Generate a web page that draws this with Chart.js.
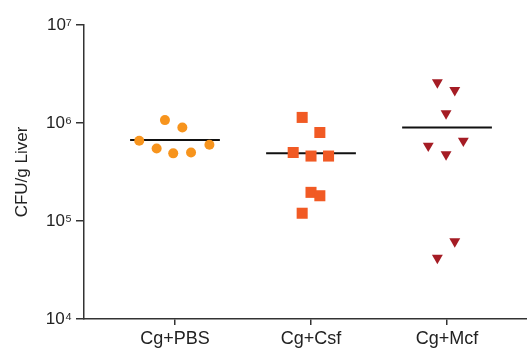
<!DOCTYPE html>
<html>
<head>
<meta charset="utf-8">
<script src="https://cdn.jsdelivr.net/npm/chart.js@4"></script>
<style>
  html, body { margin: 0; padding: 0; background: #ffffff; }
  #c { display: block; }
</style>
</head>
<body>
<canvas id="c" width="527" height="351"></canvas>
<script>
// ---- data ----
const categories = ['Cg+PBS', 'Cg+Csf', 'Cg+Mcf'];

const pbsValues = [6.6e5, 1.07e6, 9.0e5, 5.5e5, 4.9e5, 5.0e5, 6.0e5];
const pbsJitter = [-0.263, -0.074, 0.054, -0.135, -0.013, 0.118, 0.253];

const csfValues = [1.14e6, 8.0e5, 5.0e5, 4.6e5, 4.6e5, 1.96e5, 1.81e5, 1.2e5];
const csfJitter = [-0.065, 0.065, -0.131, 0.0, 0.129, 0.0, 0.065, -0.065];

const mcfValues = [2.59e6, 2.16e6, 1.25e6, 5.85e5, 6.58e5, 4.78e5, 6.2e4, 4.2e4];
const mcfJitter = [-0.071, 0.057, -0.007, -0.138, 0.12, -0.007, 0.057, -0.071];

const meanValues = [6.7e5, 4.9e5, 9.0e5];

const yTickValues = [1e4, 1e5, 1e6, 1e7];
const yTickLabels = ['10\u2074', '10\u2075', '10\u2076', '10\u2077'];
const xTickValues = [1, 2, 3];

// ---- build datasets ----
function pts(vals, jit, idx) {
  return vals.map((v, i) => ({ x: idx + jit[i], y: v }));
}
const groupColors = ['#F7941D', '#F15A24', '#A51C24'];
const groupStyles = [
  { pointStyle: 'circle', radius: 5, rotation: 0 },
  { pointStyle: 'rect', radius: 7.8, rotation: 0 },
  { pointStyle: 'triangle', radius: 6.3, rotation: 180 }
];
const groups = [
  pts(pbsValues, pbsJitter, 1),
  pts(csfValues, csfJitter, 2),
  pts(mcfValues, mcfJitter, 3)
];

const datasets = [];
groups.forEach((g, i) => {
  datasets.push({
    label: categories[i],
    data: g,
    showLine: false,
    pointStyle: groupStyles[i].pointStyle,
    pointRadius: groupStyles[i].radius,
    pointRotation: groupStyles[i].rotation,
    pointBackgroundColor: groupColors[i],
    pointBorderColor: groupColors[i],
    pointBorderWidth: 0,
    pointHoverRadius: groupStyles[i].radius
  });
});
const halfWidth = 0.33;
meanValues.forEach((m, i) => {
  datasets.push({
    label: 'mean ' + categories[i],
    data: [{ x: i + 1 - halfWidth, y: m }, { x: i + 1 + halfWidth, y: m }],
    showLine: true,
    borderColor: '#111111',
    borderWidth: 2,
    pointRadius: 0,
    pointHoverRadius: 0,
    fill: false
  });
});

const axisColor = '#333333';
const fontFamily = '"Liberation Sans", Arial, sans-serif';

new Chart(document.getElementById('c'), {
  type: 'scatter',
  data: { datasets },
  options: {
    responsive: false,
    animation: false,
    events: [],
    layout: { autoPadding: false, padding: { top: 25, right: 0, left: 0, bottom: 0 } },
    plugins: { legend: { display: false }, tooltip: { enabled: false } },
    scales: {
      x: {
        type: 'linear',
        min: 0.331,
        max: 3.588,
        afterBuildTicks: (s) => { s.ticks = xTickValues.map(v => ({ value: v })); },
        afterFit: (s) => { s.height = 32; },
        ticks: {
          callback: (v) => categories[v - 1],
          color: '#222222',
          font: { family: fontFamily, size: 18 },
          padding: 3,
          maxRotation: 0,
          autoSkip: false
        },
        grid: { drawOnChartArea: false, drawTicks: true, tickLength: 6, color: axisColor, lineWidth: 1.5 },
        border: { display: true, color: axisColor, width: 1.5 }
      },
      y: {
        type: 'logarithmic',
        min: 1e4,
        max: 1e7,
        afterBuildTicks: (s) => { s.ticks = yTickValues.map(v => ({ value: v })); },
        afterFit: (s) => { s.width = 84; },
        ticks: {
          callback: (v) => yTickLabels[yTickValues.indexOf(v)],
          color: '#222222',
          font: { family: fontFamily, size: 17 },
          padding: 4,
          autoSkip: false
        },
        title: {
          display: true,
          text: 'CFU/g Liver',
          color: '#222222',
          font: { family: fontFamily, size: 17 },
          padding: { top: 12, bottom: 0 }
        },
        grid: { drawOnChartArea: false, drawTicks: true, tickLength: 8, color: axisColor, lineWidth: 1.5 },
        border: { display: true, color: axisColor, width: 1.5 }
      }
    }
  }
});
</script>
</body>
</html>
